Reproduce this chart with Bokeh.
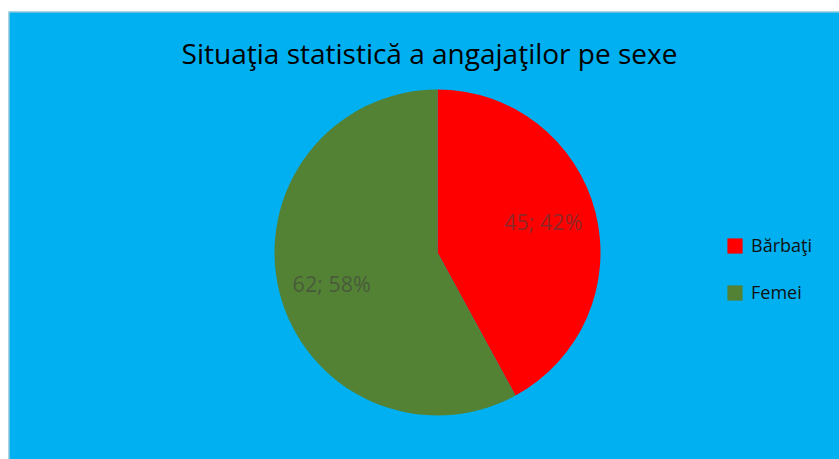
import math
from bokeh.plotting import figure
from bokeh.models import Range1d, ColumnDataSource, Legend, LegendItem, Span
from bokeh.core.properties import value
from bokeh.embed import file_html
from bokeh.resources import INLINE

title_text = "Situaţia statistică a angajaţilor pe sexe"
categories = ["Bărbaţi", "Femei"]
counts = [45, 62]
colors = ["#FF0000", "#548235"]

total = sum(counts)
shares = [c / total for c in counts]
starts, ends, lx, ly, labels = [], [], [], [], []
cum = 0.0
for c, s in zip(counts, shares):
    a0 = math.pi / 2 - 2 * math.pi * cum
    cum += s
    a1 = math.pi / 2 - 2 * math.pi * cum
    starts.append(a0)
    ends.append(a1)
    mid = (a0 + a1) / 2
    lx.append(0.67 * math.cos(mid))
    ly.append(0.76 * math.sin(mid))
    labels.append(f"{c}; {round(s * 100)}%")

src = ColumnDataSource(dict(cat=categories, start=starts, end=ends, color=colors,
                            lx=lx, ly=ly, label=labels))

W, H = 831, 448
unit = 163.0
cx, cy = 429, 241
xr = Range1d(-cx / unit, (W - cx) / unit)
yr = Range1d(-(H - cy) / unit, cy / unit)
p = figure(width=W + 8, height=H + 11, output_backend="svg", toolbar_location=None,
           x_range=xr, y_range=yr,
           min_border=0, min_border_top=11, min_border_left=8)
p.axis.visible = False
p.grid.visible = False
p.xaxis.visible = False
p.yaxis.visible = False
p.background_fill_color = "#00B0F0"
p.border_fill_color = "#FFFFFF"
p.outline_line_color = None

p.add_layout(Span(location=xr.start, dimension="height", line_color="#D0D0D0", line_width=2))
p.add_layout(Span(location=yr.end, dimension="width", line_color="#D0D0D0", line_width=2))

p.wedge(x=0, y=0, radius=1, start_angle="start", end_angle="end", direction="clock",
        fill_color="color", line_color=None, source=src)

p.text(x="lx", y="ly", text="label", source=src, text_align="center",
       text_baseline="middle", text_font=value("Open Sans"), text_font_size="21.5px",
       text_color="#404040", text_alpha=0.6)

p.text(x=[-0.049], y=[1.225], text=[title_text], text_align="center",
       text_baseline="middle", text_font=value("Open Sans"), text_font_size="28px",
       text_color="#000000")

items = []
for cat, col in zip(categories, colors):
    r = p.rect(x=[float("nan")], y=[float("nan")], width=[1], height=[1],
               fill_color=col, line_color=None)
    items.append(LegendItem(label=cat, renderers=[r]))

legend = Legend(items=items, location=(717, 155), glyph_width=19, glyph_height=19,
                label_height=20, spacing=23, padding=0, margin=0, label_standoff=7,
                label_text_font="Open Sans", label_text_font_size="18px",
                label_text_color="#111111", border_line_color=None,
                background_fill_alpha=0)
p.add_layout(legend, "center")

open("out.html", "w").write(file_html(p, INLINE))
